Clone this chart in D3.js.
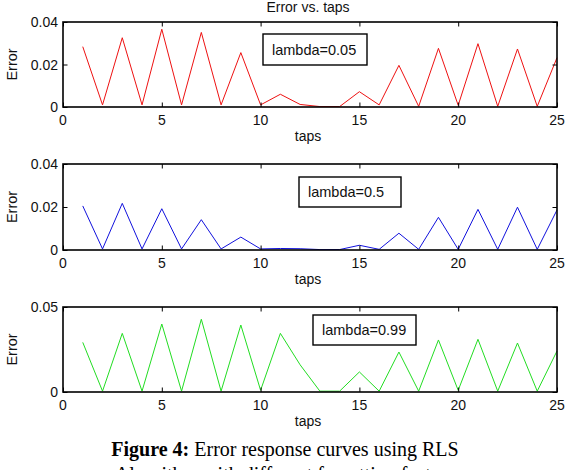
<!DOCTYPE html>
<html><head><meta charset="utf-8">
<script src="https://cdn.jsdelivr.net/npm/d3@7"></script>
<style>body{margin:0;background:#fff}svg{display:block}</style>
</head><body>
<script>
const taps = [1,2,3,4,5,6,7,8,9,10,11,12,13,14,15,16,17,18,19,20,21,22,23,24,25];
const err005 = [0.0284,0.001,0.0326,0.001,0.0366,0.001,0.0351,0.001,0.0256,0.001,0.006,0.0012,0.0002,0.0002,0.0072,0.001,0.0196,0.0003,0.0276,0.0008,0.0298,0.0003,0.0273,0.0003,0.0232];
const err05 = [0.0205,0.0005,0.0217,0.0005,0.0192,0.0005,0.0141,0.0005,0.006,0.0005,0.0007,0.0006,0.0002,0.0002,0.0022,0.0003,0.0078,0.0003,0.0152,0.0003,0.0189,0.0003,0.0199,0.0003,0.0186];
const err099 = [0.0292,0.0005,0.0345,0.0005,0.040,0.0005,0.0428,0.0005,0.0394,0.001,0.0345,0.016,0.0005,0.0005,0.0118,0.0005,0.0235,0.0005,0.0306,0.001,0.031,0.0005,0.0288,0.0005,0.0241];
const xTicks = [0,5,10,15,20,25];
const yTicks12 = [0,0.02,0.04];
const yTicks3 = [0,0.05];
const legends = ["lambda=0.05","lambda=0.5","lambda=0.99"];
const titleText = "Error vs. taps";
const xLabel = "taps", yLabel = "Error";
const caption1Bold = "Figure 4:", caption1 = " Error response curves using RLS";
const caption2 = "Algorithm with different forgetting factors";

const W = 573, H = 470;
const svg = d3.select("body").append("svg").attr("width", W).attr("height", H);
const font = "Liberation Sans, Arial, sans-serif";

const panels = [
  {data: err005, color: "#ee1111", top: 22, bottom: 107, ymax: 0.04, yt: yTicks12, leg: legends[0], lx: 263, ly: 34, lw: 104, lh: 31},
  {data: err05, color: "#1111dd", top: 164, bottom: 250, ymax: 0.04, yt: yTicks12, leg: legends[1], lx: 299, ly: 177, lw: 102, lh: 30},
  {data: err099, color: "#22dd22", top: 307, bottom: 392, ymax: 0.05, yt: yTicks3, leg: legends[2], lx: 313, ly: 315, lw: 103, lh: 30}
];
const x = d3.scaleLinear().domain([0,25]).range([63,557]);

function fmt(v){ return v===0 ? "0" : String(v); }

panels.forEach(p => {
  const y = d3.scaleLinear().domain([0,p.ymax]).range([p.bottom,p.top]);
  const g = svg.append("g");
  const line = d3.line().x((d,i)=>x(taps[i])).y(d=>y(d));
  g.append("path").datum(p.data).attr("d", line).attr("fill","none")
    .attr("stroke", p.color).attr("stroke-width", 1);
  const tl = 4.5;
  g.append("g").attr("transform",`translate(0,${p.bottom})`)
    .call(d3.axisBottom(x).tickValues(xTicks).tickSizeInner(-tl).tickSizeOuter(0).tickPadding(0).tickFormat(()=>""))
    .call(a=>a.select(".domain").remove());
  g.append("g").attr("transform",`translate(0,${p.top})`)
    .call(d3.axisTop(x).tickValues(xTicks).tickSizeInner(-tl).tickSizeOuter(0).tickFormat(()=>""))
    .call(a=>a.select(".domain").remove());
  g.append("g").attr("transform",`translate(${x(0)},0)`)
    .call(d3.axisLeft(y).tickValues(p.yt).tickSizeInner(-tl).tickSizeOuter(0).tickFormat(()=>""))
    .call(a=>a.select(".domain").remove());
  g.append("g").attr("transform",`translate(${x(25)},0)`)
    .call(d3.axisRight(y).tickValues(p.yt).tickSizeInner(-tl).tickSizeOuter(0).tickFormat(()=>""))
    .call(a=>a.select(".domain").remove());
  g.selectAll(".tick line").attr("stroke","#000").attr("stroke-width",1);
  g.append("rect").attr("x", x(0)).attr("y", p.top).attr("width", x(25)-x(0)).attr("height", p.bottom-p.top)
    .attr("fill","none").attr("stroke","#000").attr("stroke-width",1.6);
  xTicks.forEach(t => {
    g.append("text").attr("x", x(t)).attr("y", p.bottom+18).attr("text-anchor","middle")
      .attr("font-family", font).attr("font-size", 14).attr("fill","#111").text(fmt(t));
  });
  p.yt.forEach(t => {
    g.append("text").attr("x", x(0)-5).attr("y", y(t)+5).attr("text-anchor","end")
      .attr("font-family", font).attr("font-size", 14).attr("fill","#111").text(fmt(t));
  });
  g.append("text").attr("x", (x(0)+x(25))/2 - 2).attr("y", p.bottom+34).attr("text-anchor","middle")
    .attr("font-family", font).attr("font-size", 14).attr("fill","#111").text(xLabel);
  g.append("text").attr("transform",`translate(17,${(p.top+p.bottom)/2}) rotate(-90)`).attr("text-anchor","middle")
    .attr("font-family", font).attr("font-size", 14.5).attr("fill","#111").text(yLabel);
  g.append("rect").attr("x", p.lx).attr("y", p.ly).attr("width", p.lw).attr("height", p.lh)
    .attr("fill","#fff").attr("stroke","#000").attr("stroke-width",1.4);
  g.append("text").attr("x", p.lx+9).attr("y", p.ly+p.lh/2+5).attr("font-family", font)
    .attr("font-size", 14.5).attr("fill","#111").text(p.leg);
});

svg.append("text").attr("x", 308).attr("y", 12).attr("text-anchor","middle")
  .attr("font-family", font).attr("font-size", 14).attr("fill","#111").text(titleText);

const cap = svg.append("text").attr("x", 285).attr("y", 456).attr("text-anchor","middle")
  .attr("font-family","Liberation Serif, Times New Roman, serif").attr("font-size", 20).attr("fill","#000");
cap.append("tspan").attr("font-weight","bold").text(caption1Bold);
cap.append("tspan").text(caption1);
svg.append("text").attr("x", 285).attr("y", 481).attr("text-anchor","middle")
  .attr("font-family","Liberation Serif, Times New Roman, serif").attr("font-size", 20).attr("fill","#000").text(caption2);
</script>
</body></html>
